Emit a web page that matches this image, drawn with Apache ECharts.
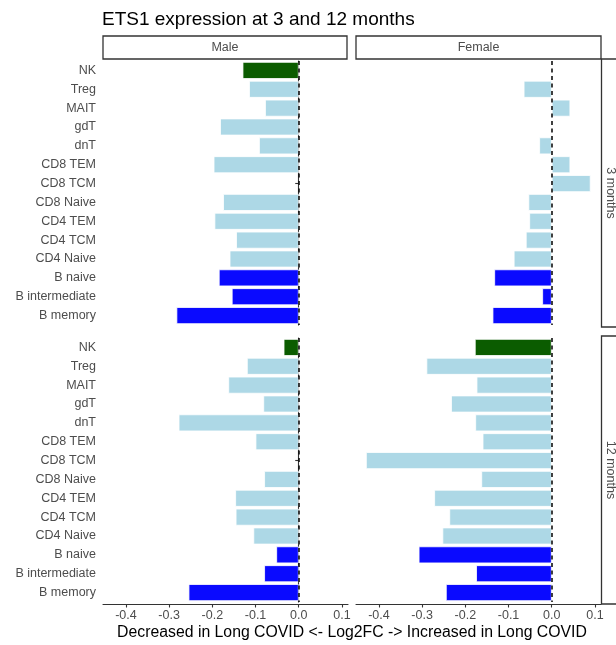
<!DOCTYPE html>
<html>
<head>
<meta charset="utf-8">
<script src="https://cdn.jsdelivr.net/npm/echarts@6/dist/echarts.min.js"></script>
<style>html,body{margin:0;padding:0;background:#fff;}#c{width:616px;height:645px;}</style>
</head>
<body>
<div id="c"></div>
<script>
var categories = ['NK','Treg','MAIT','gdT','dnT','CD8 TEM','CD8 TCM','CD8 Naive','CD4 TEM','CD4 TCM','CD4 Naive','B naive','B intermediate','B memory'];
var cellGroup = ['NK','T','T','T','T','T','T','T','T','T','T','B','B','B'];
var groupColors = {NK:'#0b5c00', T:'#ADD8E6', B:'#0a0aff'};
var male3 = [-0.130,-0.115,-0.078,-0.182,-0.092,-0.197,null,-0.175,-0.195,-0.145,-0.160,-0.185,-0.155,-0.283];
var female3 = [0.002,-0.065,0.043,0.001,-0.029,0.043,0.090,-0.054,-0.052,-0.060,-0.088,-0.133,-0.022,-0.137];
var male12 = [-0.035,-0.120,-0.163,-0.082,-0.278,-0.100,null,-0.080,-0.147,-0.146,-0.105,-0.052,-0.080,-0.255];
var female12 = [-0.178,-0.290,-0.174,-0.233,-0.177,-0.160,-0.430,-0.163,-0.272,-0.237,-0.253,-0.308,-0.175,-0.245];
var xTicks = [-0.4,-0.3,-0.2,-0.1,0.0,0.1];
var colLabels = ['Male','Female'];
var rowLabels = ['3 months','12 months'];
var titleText = 'ETS1 expression at 3 and 12 months';
var xTitle = 'Decreased in Long COVID <- Log2FC -> Increased in Long COVID';

var FONT = 'Liberation Sans, Arial, Helvetica, sans-serif';
var panels = [
  {data: male3,   left: 103, top: 61,  showY: true,  showX: false},
  {data: female3, left: 356, top: 61,  showY: false, showX: false},
  {data: male12,  left: 103, top: 338, showY: true,  showX: true},
  {data: female12,left: 356, top: 338, showY: false, showX: true}
];
var grids = [], xAxes = [], yAxes = [], series = [];
panels.forEach(function(p, i){
  grids.push({left: p.left, top: p.top, width: 245, height: 264, containLabel: false});
  xAxes.push({
    type: 'value', gridIndex: i, min: -0.453, max: 0.114, offset: p.showX ? 2 : 0,
    splitLine: {show: false},
    axisLine: {show: p.showX, lineStyle: {color: '#333', width: 1.1}},
    axisTick: {show: p.showX, length: 3.5, customValues: xTicks, lineStyle: {color: '#333', width: 1.1}},
    axisLabel: {show: p.showX, customValues: xTicks, color: '#4d4d4d', fontSize: 12.5, fontFamily: FONT, margin: 5,
      formatter: function(v){ return v.toFixed(1); }}
  });
  yAxes.push({
    type: 'category', gridIndex: i, data: categories, inverse: true,
    axisLine: {show: p.showY, lineStyle: {color: '#333', width: 1.1}},
    axisTick: {show: p.showY, length: 3.5, alignWithLabel: true, lineStyle: {color: '#333', width: 1.1}},
    axisLabel: {show: p.showY, color: '#4d4d4d', fontSize: 12.5, fontFamily: FONT, margin: 7},
    splitLine: {show: false}
  });
  series.push({
    type: 'bar', xAxisIndex: i, yAxisIndex: i, barWidth: '90%',
    data: p.data.map(function(v, k){
      return {value: v === null ? '-' : v, itemStyle: {color: groupColors[cellGroup[k]]}};
    }),
    itemStyle: {borderColor: '#fff', borderWidth: 0.8},
    silent: true,
    markLine: {
      silent: true, symbol: 'none', label: {show: false},
      lineStyle: {type: [4, 3.5], color: '#111', width: 1.6},
      data: [{xAxis: 0}]
    }
  });
});

var graphics = [];
var stripX = [[103, 244], [356, 245]];
colLabels.forEach(function(t, i){
  graphics.push({type: 'rect', shape: {x: stripX[i][0], y: 36, width: stripX[i][1], height: 23},
    style: {fill: '#fff', stroke: '#333', lineWidth: 1.3}, z: 10});
  graphics.push({type: 'text', x: stripX[i][0] + stripX[i][1] / 2, y: 47.5, z: 11,
    style: {text: t, fill: '#4d4d4d', font: '12.5px ' + FONT, textAlign: 'center', textVerticalAlign: 'middle'}});
});
var stripY = [59, 336];
rowLabels.forEach(function(t, i){
  graphics.push({type: 'rect', shape: {x: 601.5, y: stripY[i], width: 24, height: 268},
    style: {fill: '#fff', stroke: '#333', lineWidth: 1.3}, z: 10});
  graphics.push({type: 'text', x: 610.5, y: stripY[i] + 134, rotation: -Math.PI / 2, z: 11,
    style: {text: t, fill: '#4d4d4d', font: '12.5px ' + FONT, textAlign: 'center', textVerticalAlign: 'middle'}});
});
graphics.push({type: 'text', x: 352, y: 633, z: 11,
  style: {text: xTitle, fill: '#000', font: '15.8px ' + FONT, textAlign: 'center', textVerticalAlign: 'middle'}});

var chart = echarts.init(document.getElementById('c'), null, {renderer: 'canvas'});
chart.setOption({
  animation: false,
  backgroundColor: '#fff',
  title: {text: titleText, left: 97, top: 5, textStyle: {fontSize: 19, fontWeight: 'normal', color: '#000', fontFamily: FONT}},
  grid: grids, xAxis: xAxes, yAxis: yAxes, series: series,
  graphic: graphics
});
</script>
</body>
</html>
